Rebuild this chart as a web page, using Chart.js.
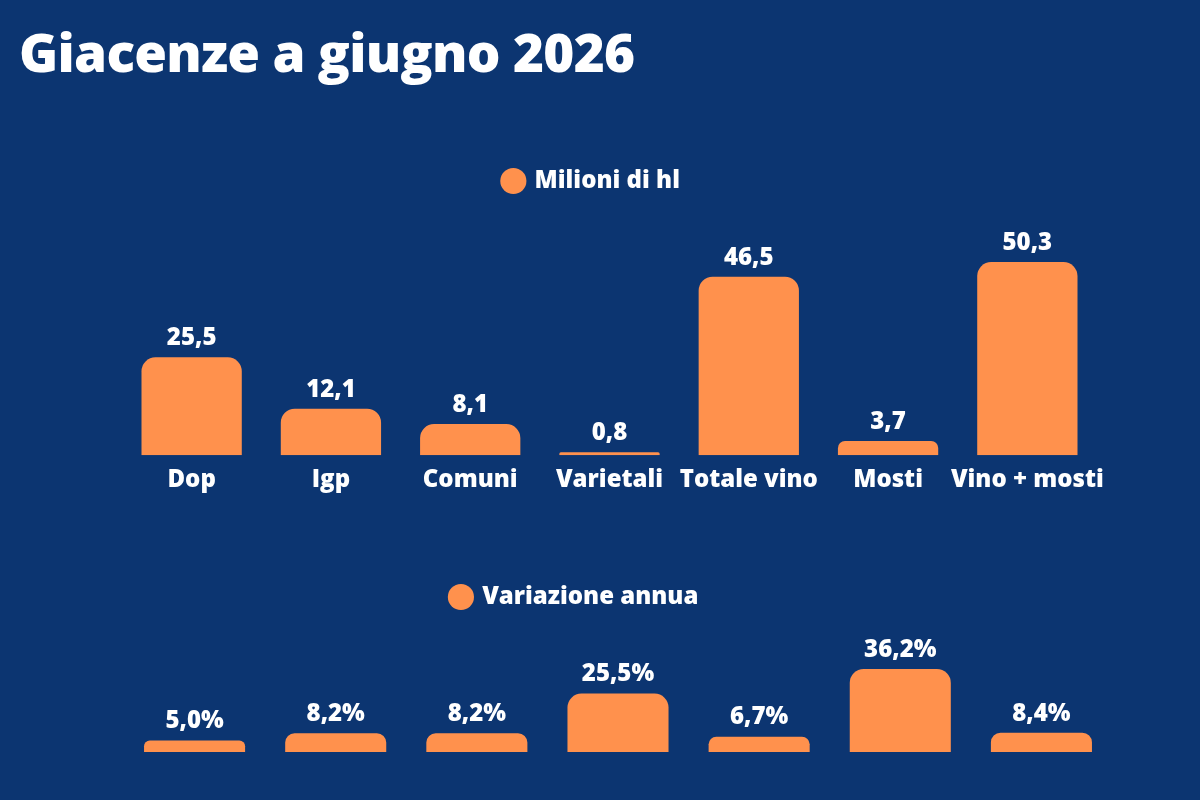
<!DOCTYPE html>
<html>
<head>
<meta charset="utf-8">
<script src="https://cdn.jsdelivr.net/npm/chart.js@4.4.1/dist/chart.umd.min.js"></script>
<style>
  html, body { margin: 0; padding: 0; }
  body { width: 1200px; height: 800px; background: #0c3571; position: relative; overflow: hidden; font-family: 'Open Sans', sans-serif; }
  #title { position: absolute; left: 19px; top: 12px; color: #fff; font-family: 'Open Sans', sans-serif; font-weight: 800; font-size: 53px; letter-spacing: -0.7px; line-height: 80px; margin: 0; white-space: nowrap; }
  .box { position: absolute; left: 0; width: 1200px; }
  #box1 { top: 159px; height: 339px; }
  #box2 { top: 575px; height: 177px; }
</style>
</head>
<body>
<h1 id="title">Giacenze a giugno 2026</h1>
<div class="box" id="box1"><canvas id="c1"></canvas></div>
<div class="box" id="box2"><canvas id="c2"></canvas></div>
<script>
const categories = ['Dop', 'Igp', 'Comuni', 'Varietali', 'Totale vino', 'Mosti', 'Vino + mosti'];
const stockLabel = 'Milioni di hl';
const stockValues = [25.5, 12.1, 8.1, 0.8, 46.5, 3.7, 50.3];
const changeLabel = 'Variazione annua';
const changeValues = [5.0, 8.2, 8.2, 25.5, 6.7, 36.2, 8.4];

const ORANGE = '#ff914d';
const FONT = "'Open Sans', sans-serif";

function fmt(v, decimals) { return v.toFixed(decimals).replace('.', ','); }

const valueLabels = {
  id: 'valueLabels',
  afterDatasetsDraw(chart, args, opts) {
    const ctx = chart.ctx;
    const meta = chart.getDatasetMeta(0);
    const data = chart.data.datasets[0].data;
    ctx.save();
    ctx.fillStyle = '#ffffff';
    ctx.font = '800 24px ' + FONT;
    ctx.textAlign = 'center';
    ctx.textBaseline = 'middle';
    meta.data.forEach((bar, i) => {
      ctx.fillText(fmt(data[i], 1) + (opts.suffix || ''), bar.x, bar.y - opts.offset);
    });
    ctx.restore();
  }
};

function makeChart(id, label, values, cfg) {
  return new Chart(document.getElementById(id), {
    type: 'bar',
    data: {
      labels: categories,
      datasets: [{
        label: label,
        data: values,
        backgroundColor: ORANGE,
        borderWidth: 0,
        borderRadius: 14,
        borderSkipped: 'start',
        categoryPercentage: 1,
        barPercentage: cfg.barPct
      }]
    },
    options: {
      responsive: true,
      maintainAspectRatio: false,
      animation: false,
      layout: { padding: { left: cfg.padL, right: cfg.padR, top: 0, bottom: 0 } },
      plugins: {
        legend: {
          display: true,
          position: 'top',
          align: 'center',
          labels: {
            color: '#ffffff',
            font: { family: FONT, size: 24, weight: '800' },
            usePointStyle: true,
            pointStyle: 'circle',
            boxWidth: 18.5,
            boxHeight: 18.5,
            padding: 10
          }
        },
        tooltip: { enabled: false },
        valueLabels: { suffix: cfg.suffix, offset: 19 }
      },
      scales: {
        x: {
          display: cfg.showX,
          grid: { display: false },
          border: { display: false },
          ticks: {
            color: '#ffffff',
            font: { family: FONT, size: 24, weight: '800' },
            padding: 3,
            maxRotation: 0,
            autoSkip: false
          }
        },
        y: {
          display: true,
          min: 0,
          max: cfg.yMax,
          grid: { display: false },
          border: { display: false },
          ticks: { display: false },
          afterFit(scale) { scale.width = cfg.yWidth; }
        }
      }
    },
    plugins: [valueLabels]
  });
}

// top chart: chart area ~122..1097, legend centred ~590
makeChart('c1', stockLabel, stockValues, {
  barPct: 0.72, padL: 87, padR: 103, yWidth: 35, yMax: 65.7, showX: true, suffix: ''
});
// bottom chart: chart area ~124..1112, legend centred ~573
makeChart('c2', changeLabel, changeValues, {
  barPct: 0.716, padL: 38, padR: 88, yWidth: 86, yMax: 58, showX: false, suffix: '%'
});
</script>
</body>
</html>
